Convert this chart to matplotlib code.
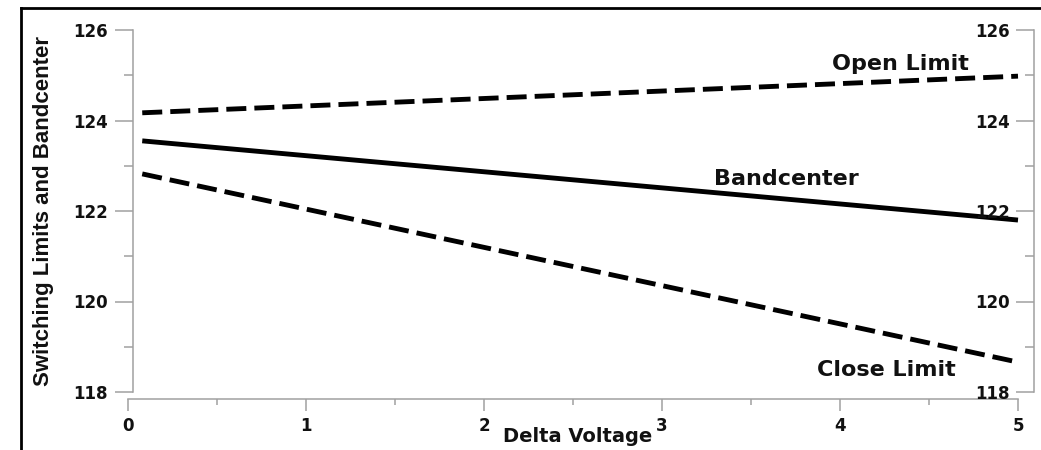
from __future__ import annotations

import matplotlib

matplotlib.use("Agg")

from matplotlib import pyplot as plt
from matplotlib.lines import Line2D
from matplotlib.ticker import MultipleLocator


# values
DELTA_VOLTAGE = [0.08, 5.0]
OPEN_LIMIT = [124.17, 124.98]
BANDCENTER = [123.55, 121.80]
CLOSE_LIMIT = [122.82, 118.66]

X_TICKS = [0, 1, 2, 3, 4, 5]
Y_TICKS = [118, 120, 122, 124, 126]

LABELS = ["Open Limit", "Bandcenter", "Close Limit"]
LABEL_X = [4.34, 3.70, 4.26]
LABEL_Y = [125.12, 122.57, 118.35]

SPINE_COLOR = "#a0a0a0"
TEXT_COLOR = "#111111"
PX = 0.72  # points per pixel at dpi 100


def style_ticks(ax, axis: str, direction: str, major: float, minor: float, pad: float) -> None:
    ax.tick_params(axis=axis, which="major", direction=direction, length=major * PX,
                   width=1.1, color=SPINE_COLOR, pad=pad * PX, labelsize=12,
                   labelcolor=TEXT_COLOR)
    ax.tick_params(axis=axis, which="minor", direction=direction, length=minor * PX,
                   width=1.1, color=SPINE_COLOR)


def plot(output_path: str) -> None:
    plt.rcParams["font.family"] = ["DejaVu Sans"]
    plt.rcParams["font.weight"] = "bold"
    plt.rcParams["lines.scale_dashes"] = False

    fig = plt.figure(figsize=(10.41, 4.5), dpi=100)
    ax = fig.add_axes([128 / 1041, 1 - 392 / 450, 890 / 1041, 362 / 450])

    dashes = (14.4, 5.8)
    ax.plot(DELTA_VOLTAGE, OPEN_LIMIT, color="black", linewidth=3.5,
            dashes=dashes, dash_capstyle="butt", clip_on=False)
    ax.plot(DELTA_VOLTAGE, BANDCENTER, color="black", linewidth=3.5,
            solid_capstyle="butt", clip_on=False)
    ax.plot(DELTA_VOLTAGE, CLOSE_LIMIT, color="black", linewidth=3.5,
            dashes=dashes, dash_capstyle="butt", clip_on=False)

    for text, x, y in zip(LABELS, LABEL_X, LABEL_Y):
        ax.text(x, y, text, ha="center", va="baseline", fontsize=16,
                fontweight="bold", color=TEXT_COLOR)

    ax.set_xlim(0, 5)
    ax.set_ylim(118, 126)
    ax.set_xticks(X_TICKS)
    ax.set_yticks(Y_TICKS)
    ax.xaxis.set_minor_locator(MultipleLocator(0.5))
    ax.yaxis.set_minor_locator(MultipleLocator(1))

    for side in ["top", "right"]:
        ax.spines[side].set_visible(False)
    for side in ["left", "bottom"]:
        ax.spines[side].set_color(SPINE_COLOR)
        ax.spines[side].set_linewidth(1.1)
    ax.spines["bottom"].set_position(("outward", 7 * PX))
    ax.spines["left"].set_position(("outward", -5 * PX))

    style_ticks(ax, "y", "out", 18, 9, 7)
    style_ticks(ax, "x", "out", 12, 6, 6)

    # right hand axis repeats the scale, ticks point into the plot
    ax2 = ax.twinx()
    ax2.set_ylim(ax.get_ylim())
    ax2.set_yticks(Y_TICKS)
    ax2.yaxis.set_minor_locator(MultipleLocator(1))
    for side in ["top", "left", "bottom"]:
        ax2.spines[side].set_visible(False)
    ax2.spines["right"].set_color(SPINE_COLOR)
    ax2.spines["right"].set_linewidth(1.1)
    ax2.spines["right"].set_position(("outward", 16 * PX))
    style_ticks(ax2, "y", "in", 18, 9, -24)
    for label in ax2.get_yticklabels():
        label.set_horizontalalignment("right")

    ax.set_xlabel("Delta Voltage", fontsize=14, fontweight="bold", color=TEXT_COLOR,
                  va="top")
    ax.xaxis.set_label_coords(0.505, -0.0967)
    ax.set_ylabel("Switching Limits and Bandcenter", fontsize=16, fontweight="bold",
                  color=TEXT_COLOR, family=["Liberation Sans", "DejaVu Sans"],
                  va="center")
    ax.yaxis.set_label_coords(-0.0944, 0.5)

    # black frame round the picture (top and left edges only)
    fig.add_artist(Line2D([21 / 1041, 21 / 1041], [0, 1 - 8 / 450], color="black",
                          linewidth=2, transform=fig.transFigure))
    fig.add_artist(Line2D([21 / 1041, 1], [1 - 8 / 450, 1 - 8 / 450], color="black",
                          linewidth=2, transform=fig.transFigure))

    fig.savefig(output_path)


def main() -> None:
    plot("out.png")


if __name__ == "__main__":
    main()
